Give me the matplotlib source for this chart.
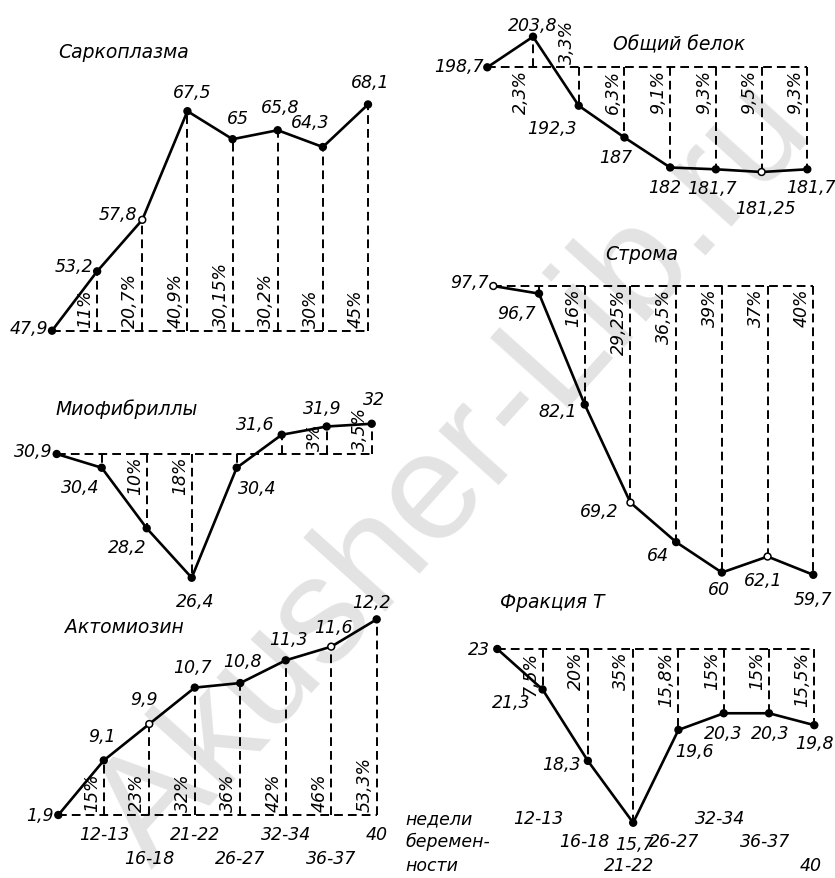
import matplotlib
matplotlib.use("Agg")
import matplotlib.pyplot as plt

# ---------------- data ----------------
week_labels = ["", "12-13", "16-18", "21-22", "26-27", "32-34", "36-37", "40"]

sarc_title = "Саркоплазма"
sarc_values = [47.9, 53.2, 57.8, 67.5, 65.0, 65.8, 64.3, 68.1]
sarc_labels = ["47,9", "53,2", "57,8", "67,5", "65", "65,8", "64,3", "68,1"]
sarc_pct = ["", "11%", "20,7%", "40,9%", "30,15%", "30,2%", "30%", "45%"]

miof_title = "Миофибриллы"
miof_values = [30.9, 30.4, 28.2, 26.4, 30.4, 31.6, 31.9, 32.0]
miof_labels = ["30,9", "30,4", "28,2", "26,4", "30,4", "31,6", "31,9", "32"]
miof_pct = ["", "", "10%", "18%", "", "", "3%", "3,5%"]

akto_title = "Актомиозин"
akto_values = [7.9, 9.1, 9.9, 10.7, 10.8, 11.3, 11.6, 12.2]
akto_labels = ["1,9", "9,1", "9,9", "10,7", "10,8", "11,3", "11,6", "12,2"]
akto_pct = ["", "15%", "23%", "32%", "36%", "42%", "46%", "53,3%"]

obsh_title = "Общий белок"
obsh_values = [198.7, 203.8, 192.3, 187.0, 182.0, 181.7, 181.25, 181.7]
obsh_labels = ["198,7", "203,8", "192,3", "187", "182", "181,7", "181,25", "181,7"]
obsh_pct = ["", "2,3%", "3,3%", "6,3%", "9,1%", "9,3%", "9,5%", "9,3%"]

strom_title = "Строма"
strom_values = [97.7, 96.7, 82.1, 69.2, 64.0, 60.0, 62.1, 59.7]
strom_labels = ["97,7", "96,7", "82,1", "69,2", "64", "60", "62,1", "59,7"]
strom_pct = ["", "", "16%", "29,25%", "36,5%", "39%", "37%", "40%"]

frak_title = "Фракция Т"
frak_values = [23.0, 21.3, 18.3, 15.7, 19.6, 20.3, 20.3, 19.8]
frak_labels = ["23", "21,3", "18,3", "15,7", "19,6", "20,3", "20,3", "19,8"]
frak_pct = ["", "7,5%", "20%", "35%", "15,8%", "15%", "15%", "15,5%"]

axis_caption = ["недели", "беремен-", "ности"]
watermark = "Akusher-Lib.ru"

# ---------------- layout / style ----------------
W, H = 835, 879
plt.rcParams["font.family"] = ["DejaVu Sans"]
FS = 12.5
TXT = dict(style="italic", fontsize=FS, color="black")

fig = plt.figure(figsize=(W / 100, H / 100), dpi=100)
fig.patch.set_facecolor("white")

fig.text(455 / W, 1 - 475 / H, watermark, ha="center", va="center",
         rotation=48, fontsize=110, fontweight="normal", color="#e3e3e3",
         zorder=-10, family="Liberation Sans")


def pt(p):
    return p * 0.72


def ftext(x, y, s, **kw):
    d = dict(TXT)
    d.update(kw)
    fig.text(x / W, 1 - y / H, s, **d)


DASH = dict(color="black", lw=1.4, linestyle=(0, (4.5, 2.6)), clip_on=False)


def panel(values, labels, pct, mapping, lab_off, pct_side, open_pts,
          title, title_xy):
    x0, x7, vref, yref, slope = mapping
    vlo, vhi = min(values), max(values)
    ytop = yref - slope * (vhi - vref)
    ybot = yref - slope * (vlo - vref)
    ax = fig.add_axes([x0 / W, 1 - ybot / H, (x7 - x0) / W, (ybot - ytop) / H])
    ax.set_xlim(0, len(values) - 1)
    ax.set_ylim(vlo, vhi)
    ax.axis("off")
    ax.patch.set_visible(False)
    xs = list(range(len(values)))
    base = values[0]
    ax.plot([xs[0], xs[-1]], [base, base], **DASH)
    for i in xs[1:]:
        ax.plot([i, i], [base, values[i]], **DASH)
    ax.plot(xs, values, color="black", lw=1.9, clip_on=False, zorder=4)
    fc = ["white" if i in open_pts else "black" for i in xs]
    ax.scatter(xs, values, s=24, c=fc, edgecolors="black", linewidths=1.1,
               zorder=5, clip_on=False)
    for i, (lab, (dx, dy, ha, va)) in enumerate(zip(labels, lab_off)):
        ax.annotate(lab, xy=(i, values[i]), xytext=(pt(dx), pt(dy)),
                    textcoords="offset points", ha=ha, va=va,
                    annotation_clip=False, **TXT)
    for i, p in enumerate(pct):
        if not p:
            continue
        side = pct_side[i]
        dy = 4 if side == "up" else -2
        ax.annotate(p, xy=(i, base), xytext=(pt(-3), pt(dy)),
                    textcoords="offset points", rotation=90, ha="right",
                    va="bottom" if side == "up" else "top",
                    annotation_clip=False, **TXT)
    ftext(title_xy[0], title_xy[1], title, ha="left", va="center",
          fontsize=13.5)
    return ax


C, B, T = "center", "bottom", "top"
R, L = "right", "left"

ax_sarc = panel(
    sarc_values, sarc_labels, sarc_pct, (52, 368, 47.9, 331.7, 11.2),
    [(-4, 3, R, C), (-4, 5, R, C), (-5, 6, R, C), (5, 10, C, B),
     (5, 12, C, B), (2, 14, C, B), (-13, 16, C, B), (2, 13, C, B)],
    ["up"] * 8, {2}, sarc_title, (58, 53))

ax_miof = panel(
    miof_values, miof_labels, miof_pct, (56.7, 371.7, 30.9, 455, 27.5),
    [(-4, 3, R, C), (-2, -10, R, T), (0, -10, R, T), (3, -14, C, T),
     (1, -11, L, T), (-7, 2, R, B), (-4, 9, C, B), (2, 16, C, B)],
    ["dn", "dn", "dn", "dn", "up", "up", "up", "up"], set(), miof_title,
    (55, 409))

ax_akto = panel(
    akto_values, akto_labels, akto_pct, (58.3, 376.7, 7.9, 816, 45.5),
    [(-5, 0, R, C), (-2, 15, C, B), (-5, 16, C, B), (-2, 12, C, B),
     (2, 13, C, B), (3, 12, C, B), (2, 11, C, B), (-5, 8, C, B)],
    ["up"] * 8, {2, 6}, akto_title, (65, 628))

ax_obsh = panel(
    obsh_values, obsh_labels, obsh_pct, (487.3, 807.3, 198.7, 68.3, 6.0),
    [(-4, 1, R, C), (0, 3, C, B), (-2, -13, R, T), (-9, -11, C, T),
     (-6, -11, C, T), (-4, -10, C, T), (4, -27, C, T), (4, -9, C, T)],
    ["dn", "dn", "up", "dn", "dn", "dn", "dn", "dn"], {6}, obsh_title,
    (613, 45))

ax_strom = panel(
    strom_values, strom_labels, strom_pct, (493.3, 813.3, 97.7, 287, 7.6),
    [(-5, 4, R, C), (-3, -10, R, T), (-8, -6, R, C), (-12, -8, R, C),
     (-7, -4, R, T), (-3, -7, C, T), (-4, -14, C, T), (0, -15, C, T)],
    ["dn"] * 8, {0, 3, 6}, strom_title, (605, 255))

ax_frak = panel(
    frak_values, frak_labels, frak_pct, (497.3, 814.3, 23.0, 650, 23.8),
    [(-7, 0, R, C), (-12, -4, R, T), (-7, -3, R, C), (1, -12, C, T),
     (-3, -12, L, T), (-1, -11, C, T), (1, -11, C, T), (0, -9, C, T)],
    ["dn"] * 8, set(), frak_title, (500, 602))

# week labels under the two bottom panels
left_rows = [0, 835, 859, 835, 859, 835, 859, 835]
right_rows = [0, 819, 842, 866, 842, 819, 842, 866]
for i, w in enumerate(week_labels):
    if not w:
        continue
    ax_akto.annotate(w, xy=(i, H - left_rows[i]),
                     xycoords=("data", "figure pixels"), ha="center",
                     va="center", annotation_clip=False, **TXT)
    ax_frak.annotate(w, xy=(i, H - right_rows[i]),
                     xycoords=("data", "figure pixels"),
                     xytext=(pt(-4), 0), textcoords="offset points",
                     ha="center", va="center", annotation_clip=False, **TXT)

for s, y in zip(axis_caption, [819, 842, 866]):
    ftext(405, y, s, ha="left", va="center")

fig.savefig("out.png", dpi=100, facecolor="white")
